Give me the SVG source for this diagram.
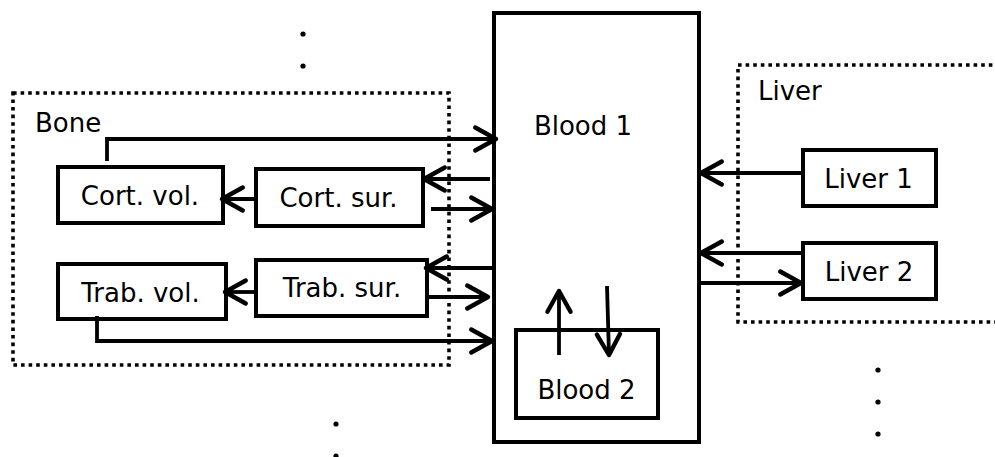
<svg xmlns="http://www.w3.org/2000/svg" width="995" height="457" viewBox="0 0 995 457">
<style>
.box{fill:#fff;stroke:#000;stroke-width:4}
.grp{fill:none;stroke:#000;stroke-width:3.6;stroke-dasharray:3.6 4}
.t{font-family:"DejaVu Sans",Verdana,sans-serif;font-size:26px;fill:#000}
.m{text-anchor:middle}
.c{fill:none;stroke:#000;stroke-width:3.8;marker-end:url(#ah)}
.dot{fill:#000}
</style>
<defs>
<marker id="ah" markerUnits="userSpaceOnUse" markerWidth="30" markerHeight="30" viewBox="-22 -13 26 26" refX="0" refY="0" orient="auto" overflow="visible">
<path d="M-18,-10 L0,0 L-18,10" fill="none" stroke="#000" stroke-width="3.8" stroke-linecap="round" stroke-linejoin="round"/>
</marker>
</defs>
<rect width="995" height="457" fill="#fff"/>

<g id="bone-group">
<rect class="grp" x="13" y="93" width="436" height="272"/>
<text class="t" x="35" y="132">Bone</text>
</g>
<g id="liver-group">
<path class="grp" d="M1000,65 H738 V322 H1000"/>
<text class="t" x="758" y="100">Liver</text>
</g>

<g id="blood1">
<rect class="box" x="494" y="13" width="205" height="429"/>
<text class="t m" x="583" y="135">Blood 1</text>
</g>
<g id="blood2">
<rect class="box" x="516" y="330" width="142" height="88"/>
<text class="t m" x="586.5" y="399">Blood 2</text>
</g>
<g id="cort-vol">
<rect class="box" x="58" y="167" width="165" height="56"/>
<text class="t m" x="140" y="205">Cort. vol.</text>
</g>
<g id="cort-sur">
<rect class="box" x="256" y="169" width="167" height="57"/>
<text class="t m" x="338.5" y="207">Cort. sur.</text>
</g>
<g id="trab-vol">
<rect class="box" x="58" y="264" width="168" height="55"/>
<text class="t m" x="140.5" y="302">Trab. vol.</text>
</g>
<g id="trab-sur">
<rect class="box" x="256" y="260" width="171" height="56"/>
<text class="t m" x="342" y="297">Trab. sur.</text>
</g>
<g id="liver1">
<rect class="box" x="803" y="150" width="133" height="56"/>
<text class="t m" x="868.5" y="188">Liver 1</text>
</g>
<g id="liver2">
<rect class="box" x="803" y="243" width="133" height="56"/>
<text class="t m" x="869" y="281">Liver 2</text>
</g>

<g id="connectors">
<path class="c" d="M107,161 V139 H496"/>
<path class="c" d="M490,179 H424"/>
<path class="c" d="M431,209 H492"/>
<path class="c" d="M256,199 H222"/>
<path class="c" d="M492,268 H426"/>
<path class="c" d="M427,297 H488"/>
<path class="c" d="M256,292 H225"/>
<path class="c" d="M97,316 V341 H492"/>
<path class="c" d="M803,173 H701"/>
<path class="c" d="M803,253 H701"/>
<path class="c" d="M699,283 H801"/>
<path class="c" d="M559,355 V291"/>
<path class="c" d="M607,286 L609,355"/>
</g>

<g id="ellipsis">
<circle class="dot" cx="303" cy="34" r="2.6"/>
<circle class="dot" cx="303" cy="66" r="2.6"/>
<circle class="dot" cx="336" cy="424" r="2.6"/>
<circle class="dot" cx="336" cy="456" r="2.6"/>
<circle class="dot" cx="878" cy="370" r="2.6"/>
<circle class="dot" cx="878" cy="402" r="2.6"/>
<circle class="dot" cx="878" cy="434" r="2.6"/>
</g>
</svg>
